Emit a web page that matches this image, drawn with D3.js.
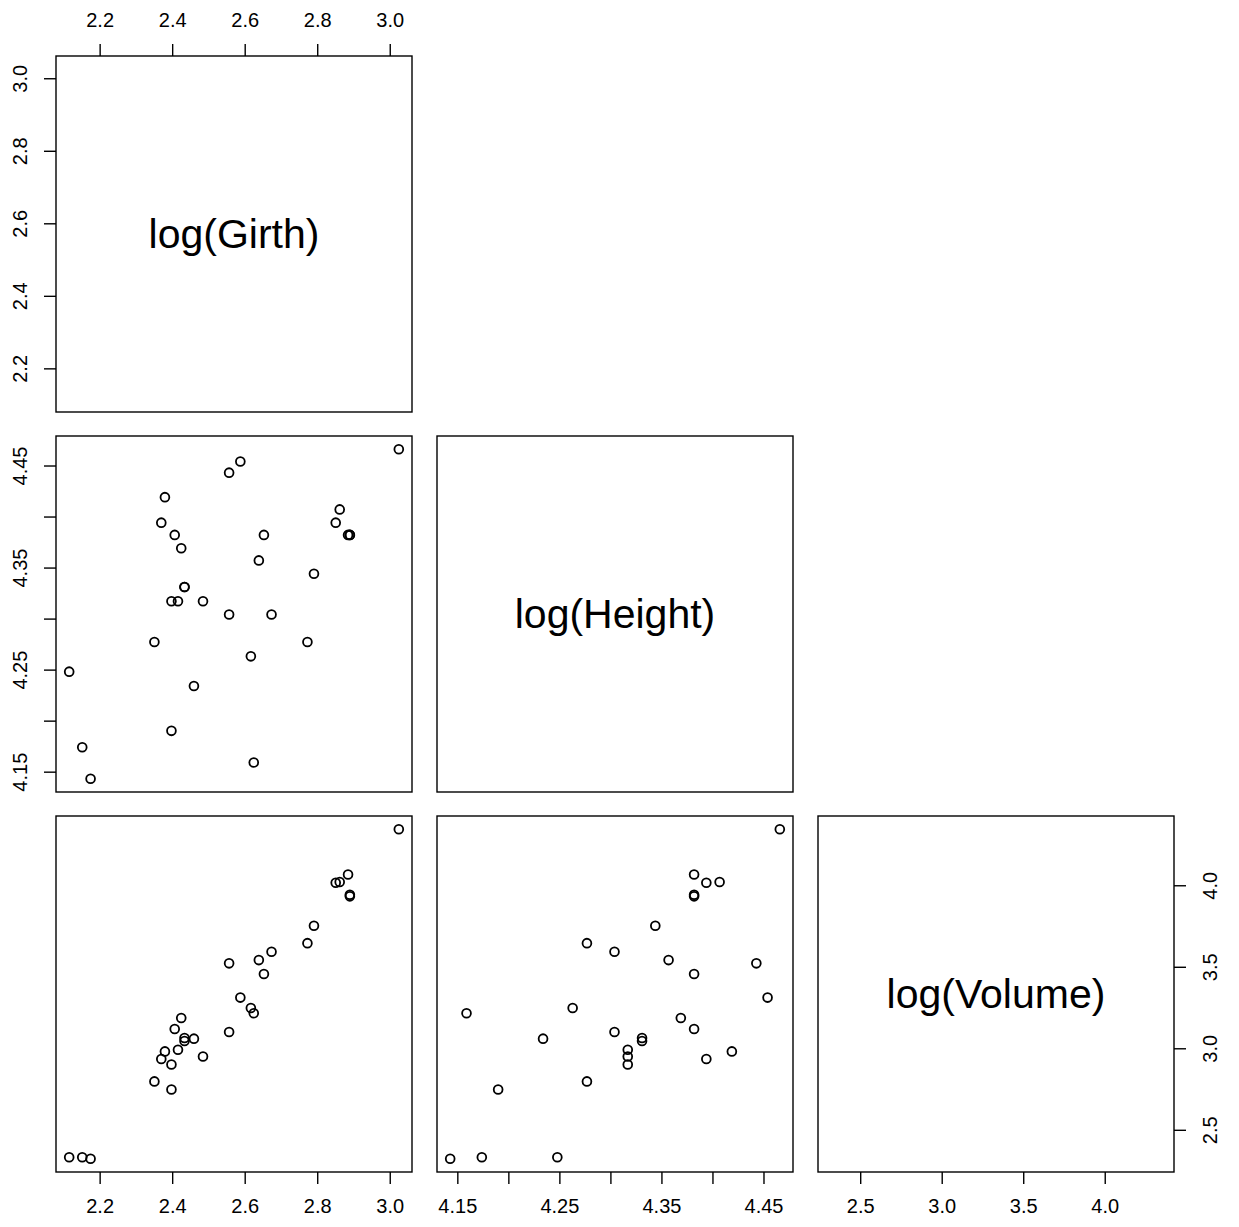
<!DOCTYPE html>
<html>
<head>
<meta charset="utf-8">
<script src="https://cdn.jsdelivr.net/npm/d3@7"></script>
<style>
  body { margin: 0; background: #fff; }
  svg { font-family: "Liberation Sans", Arial, sans-serif; }
</style>
</head>
<body>
<svg id="chart" width="1239" height="1227"></svg>
<script>
// log of the trees data (Girth, Height, Volume)
const varNames = ["log(Girth)", "log(Height)", "log(Volume)"];

const logGirth = [2.116, 2.152, 2.175, 2.351, 2.370, 2.380, 2.398, 2.398, 2.407, 2.416,
  2.425, 2.434, 2.434, 2.460, 2.485, 2.557, 2.557, 2.588, 2.617, 2.625,
  2.639, 2.653, 2.674, 2.773, 2.791, 2.851, 2.862, 2.885, 2.890, 2.890, 3.025];
const logHeight = [4.248, 4.174, 4.143, 4.277, 4.394, 4.419, 4.190, 4.317, 4.382, 4.317,
  4.369, 4.331, 4.331, 4.234, 4.317, 4.304, 4.443, 4.454, 4.263, 4.159,
  4.357, 4.382, 4.304, 4.277, 4.344, 4.394, 4.407, 4.382, 4.382, 4.382, 4.466];
const logVolume = [2.332, 2.332, 2.322, 2.797, 2.934, 2.981, 2.747, 2.901, 3.118, 2.991,
  3.186, 3.045, 3.063, 3.059, 2.950, 3.100, 3.521, 3.311, 3.247, 3.215,
  3.541, 3.456, 3.592, 3.645, 3.752, 4.015, 4.020, 4.066, 3.942, 3.932, 4.344];

const girthTicks = [2.2, 2.4, 2.6, 2.8, 3.0];
const heightTicks = [4.15, 4.20, 4.25, 4.30, 4.35, 4.40, 4.45];
const heightLabels = [4.15, 4.25, 4.35, 4.45];
const volumeTicks = [2.5, 3.0, 3.5, 4.0];

const cols = [logGirth, logHeight, logVolume];
const ticks = [girthTicks, heightTicks, volumeTicks];
const labelFmt = [d3.format(".1f"), d => heightLabels.some(v => Math.abs(v - d) < 1e-9) ? d3.format(".2f")(d) : "", d3.format(".1f")];

const lefts = [56, 437, 818];
const tops = [56, 436, 816];
const size = 356;

// R-style 4% range extension
function extRange(v) {
  const [a, b] = d3.extent(v);
  const e = (b - a) * 0.04;
  return [a - e, b + e];
}

const xScales = cols.map((v, i) => d3.scaleLinear().domain(extRange(v)).range([lefts[i], lefts[i] + size]));
const yScales = cols.map((v, i) => d3.scaleLinear().domain(extRange(v)).range([tops[i] + size, tops[i]]));

const svg = d3.select("#chart");

function styleAxis(g) {
  g.attr("font-family", "'Liberation Sans', Arial, sans-serif").attr("font-size", 20);
  g.select(".domain").remove();
  g.selectAll("line").attr("stroke", "#000").attr("stroke-width", 1.4);
  g.selectAll("text").attr("fill", "#000");
}

// panels: diagonal labels + lower triangle scatter
for (let i = 0; i < 3; i++) {
  for (let j = 0; j <= i; j++) {
    const g = svg.append("g");
    g.append("rect")
      .attr("x", lefts[j]).attr("y", tops[i])
      .attr("width", size).attr("height", size)
      .attr("fill", "none").attr("stroke", "#000").attr("stroke-width", 1.4);
    if (i === j) {
      g.append("text")
        .attr("x", lefts[j] + size / 2).attr("y", tops[i] + size / 2)
        .attr("text-anchor", "middle").attr("dominant-baseline", "central")
        .attr("font-size", 41)
        .text(varNames[i]);
    } else {
      g.selectAll("circle")
        .data(d3.range(cols[j].length))
        .join("circle")
        .attr("cx", k => xScales[j](cols[j][k]))
        .attr("cy", k => yScales[i](cols[i][k]))
        .attr("r", 4.4)
        .attr("fill", "none")
        .attr("stroke", "#000")
        .attr("stroke-width", 1.8);
    }
  }
}

// top axis (column 1)
svg.append("g")
  .attr("transform", `translate(0,${tops[0]})`)
  .call(d3.axisTop(xScales[0]).tickValues(ticks[0]).tickFormat(labelFmt[0]).tickSize(12).tickPadding(17))
  .call(styleAxis);

// bottom axes (all columns)
for (let j = 0; j < 3; j++) {
  svg.append("g")
    .attr("transform", `translate(0,${tops[2] + size})`)
    .call(d3.axisBottom(xScales[j]).tickValues(ticks[j]).tickFormat(labelFmt[j]).tickSize(12).tickPadding(15))
    .call(styleAxis);
}

// left axes (rows 1 and 2), rotated labels
for (let i = 0; i < 2; i++) {
  const ax = svg.append("g")
    .attr("transform", `translate(${lefts[0]},0)`)
    .call(d3.axisLeft(yScales[i]).tickValues(ticks[i]).tickFormat(labelFmt[i]).tickSize(12))
    .call(styleAxis);
  ax.selectAll("text")
    .attr("x", null).attr("dy", null)
    .attr("text-anchor", "middle")
    .attr("transform", "translate(-36,0) rotate(-90)")
    .attr("dominant-baseline", "central");
}

// right axis (row 3)
const rax = svg.append("g")
  .attr("transform", `translate(${lefts[2] + size},0)`)
  .call(d3.axisRight(yScales[2]).tickValues(ticks[2]).tickFormat(labelFmt[2]).tickSize(12))
  .call(styleAxis);
rax.selectAll("text")
  .attr("x", null).attr("dy", null)
  .attr("text-anchor", "middle")
  .attr("transform", "translate(36,0) rotate(-90)")
  .attr("dominant-baseline", "central");
</script>
</body>
</html>
